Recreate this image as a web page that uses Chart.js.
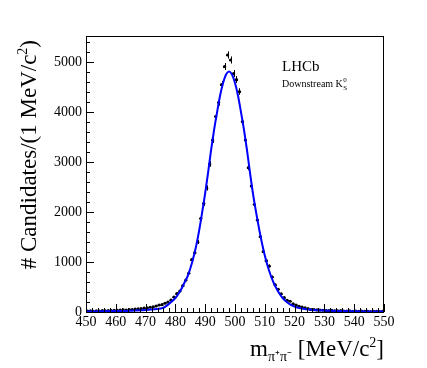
<!DOCTYPE html>
<html>
<head>
<meta charset="utf-8">
<script src="https://cdn.jsdelivr.net/npm/chart.js@4.4.1/dist/chart.umd.min.js"></script>
<style>
  html, body { margin: 0; padding: 0; background: #fff; }
  canvas { display: block; }
</style>
</head>
<body>
<canvas id="massChart" width="427" height="368"></canvas>
<script>
// --- data (1 MeV bins from 450 to 550) ---
const binLow = 450;
const binWidth = 1;
const counts = [
  18, 22, 15, 25, 20, 28, 24, 30, 26, 35,
  32, 38, 42, 40, 50, 48, 58, 62, 70, 78,
  85, 95, 105, 120, 140, 150, 175, 200, 240, 300,
  370, 420, 530, 640, 780, 1050, 1190, 1400, 1870, 2170,
  2480, 2960, 3440, 3910, 4190, 4550, 4910, 5140, 5040, 4770,
  4650, 4410, 3810, 3440, 2890, 2520, 2150, 1840, 1510, 1210,
  1030, 920, 700, 545, 455, 365, 290, 235, 215, 165,
  140, 115, 100, 85, 70, 50, 48, 42, 38, 35,
  30, 28, 32, 25, 22, 26, 20, 18, 22, 15,
  18, 14, 16, 12, 15, 10, 13, 11, 9, 12
];

// fit curve
const fitMass = [
  450, 455, 460, 465, 470, 473, 476, 478, 480, 481, 482, 483, 484, 485,
  486, 487, 488, 489, 490, 491, 492, 493, 494, 495, 496, 497, 498, 499,
  500, 501, 502, 503, 504, 505, 506, 507, 508, 509, 510, 511, 512, 513,
  514, 515, 516, 517, 518, 520, 522, 524, 526, 528, 530, 535, 540, 545, 550
];
const fitValue = [
  10, 13, 18, 26, 40, 55, 85, 170, 280, 360, 460, 580, 700, 870,
  1080, 1330, 1640, 2000, 2380, 2800, 3250, 3650, 4000, 4330, 4580, 4750, 4810, 4750,
  4580, 4330, 4000, 3650, 3250, 2800, 2380, 2020, 1690, 1390, 1130, 910, 730, 580,
  460, 360, 280, 220, 170, 108, 73, 54, 42, 34, 29, 21, 15, 12, 10
];

const xTicks = [450, 460, 470, 480, 490, 500, 510, 520, 530, 540, 550];
const yTicks = [0, 1000, 2000, 3000, 4000, 5000];
const xRange = [450, 550];
const yRange = [0, 5520];

const SERIF = '"Liberation Serif", "Times New Roman", serif';

// draw a run of text pieces (with sub/superscripts), right aligned at x
function richText(ctx, parts, x, y) {
  let total = 0;
  parts.forEach((p) => {
    ctx.font = `${p.size}px ${SERIF}`;
    total += ctx.measureText(p.t).width;
  });
  let cx = x - total;
  ctx.textAlign = "left";
  ctx.textBaseline = "alphabetic";
  parts.forEach((p) => {
    ctx.font = `${p.size}px ${SERIF}`;
    ctx.fillText(p.t, cx, y + (p.dy || 0));
    cx += ctx.measureText(p.t).width;
  });
}

const errorBars = {
  id: "errorBars",
  beforeDatasetsDraw(chart) {
    const { ctx, chartArea: a, scales: { x, y } } = chart;
    ctx.save();
    ctx.beginPath();
    ctx.rect(a.left, a.top, a.right - a.left, a.bottom - a.top);
    ctx.clip();
    ctx.strokeStyle = "#000";
    ctx.lineWidth = 1;
    ctx.beginPath();
    counts.forEach((n, i) => {
      const c = binLow + (i + 0.5) * binWidth;
      const err = Math.sqrt(n);
      const px = Math.round(x.getPixelForValue(c)) + 0.5;
      const py = Math.round(y.getPixelForValue(n)) + 0.5;
      ctx.moveTo(px, y.getPixelForValue(n + err));
      ctx.lineTo(px, y.getPixelForValue(n - err));
      ctx.moveTo(x.getPixelForValue(c - binWidth / 2), py);
      ctx.lineTo(x.getPixelForValue(c + binWidth / 2), py);
    });
    ctx.stroke();
    ctx.restore();
  },
};

const frameAndTitles = {
  id: "frameAndTitles",
  afterDraw(chart) {
    const { ctx, chartArea: a, scales: { x, y } } = chart;
    ctx.save();
    ctx.strokeStyle = "#000";
    ctx.lineWidth = 1;
    ctx.strokeRect(Math.round(a.left) + 0.5, Math.round(a.top) + 0.5,
      Math.round(a.right - a.left) - 1, Math.round(a.bottom - a.top));

    // inward ticks, ROOT style
    ctx.beginPath();
    for (let v = xRange[0]; v <= xRange[1]; v += 2) {
      const px = Math.round(x.getPixelForValue(v)) + 0.5;
      const len = v % 10 === 0 ? 8 : 4;
      ctx.moveTo(px, a.bottom);
      ctx.lineTo(px, a.bottom - len);
    }
    for (let v = 0; v <= yRange[1]; v += 200) {
      const py = Math.round(y.getPixelForValue(v)) + 0.5;
      const len = v % 1000 === 0 ? 8 : 4;
      ctx.moveTo(a.left, py);
      ctx.lineTo(a.left + len, py);
    }
    ctx.stroke();

    ctx.fillStyle = "#000";
    // x title
    richText(ctx, [
      { t: "m", size: 23 },
      { t: "\u03c0\u207a\u03c0\u207b", size: 14, dy: 5 },
      { t: " [MeV/c", size: 23 },
      { t: "2", size: 14, dy: -9 },
      { t: "]", size: 23 },
    ], a.right, 356);

    // y title
    ctx.save();
    ctx.translate(36, 40);
    ctx.rotate(-Math.PI / 2);
    richText(ctx, [
      { t: "# Candidates/(1 MeV/c", size: 23 },
      { t: "2", size: 14, dy: -9 },
      { t: ")", size: 23 },
    ], 0, 0);
    ctx.restore();

    // label
    ctx.textAlign = "left";
    ctx.font = `15px ${SERIF}`;
    ctx.fillText("LHCb", 282, 71);
    ctx.font = `10px ${SERIF}`;
    ctx.fillText("Downstream K", 282, 87);
    const kw = ctx.measureText("Downstream K").width;
    ctx.font = `7px ${SERIF}`;
    ctx.fillText("0", 282 + kw + 0.5, 82);
    ctx.fillText("S", 282 + kw + 0.5, 90);
    ctx.restore();
  },
};

new Chart(document.getElementById("massChart"), {
  type: "line",
  data: {
    datasets: [
      {
        label: "fit",
        data: fitMass.map((m, i) => ({ x: m, y: fitValue[i] })),
        borderColor: "#0000ff",
        borderWidth: 2,
        pointRadius: 0,
        fill: false,
        cubicInterpolationMode: "monotone",
      },
      {
        label: "data",
        data: counts.map((n, i) => ({ x: binLow + (i + 0.5) * binWidth, y: n })),
        showLine: false,
        pointRadius: 1.6,
        pointBackgroundColor: "#000",
        pointBorderWidth: 0,
      },
    ],
  },
  options: {
    responsive: false,
    animation: false,
    events: [],
    layout: { padding: { left: 0, top: 36, right: 43, bottom: 0 } },
    plugins: { legend: { display: false }, tooltip: { enabled: false } },
    scales: {
      x: {
        type: "linear",
        min: xRange[0],
        max: xRange[1],
        grid: { display: false, drawTicks: false },
        border: { display: false },
        afterBuildTicks: (s) => { s.ticks = xTicks.map((v) => ({ value: v })); },
        afterFit: (s) => { s.height = 56; },
        ticks: {
          color: "#000",
          padding: 2,
          maxRotation: 0,
          autoSkip: false,
          font: { family: SERIF, size: 14 },
          callback: (v) => String(v),
        },
      },
      y: {
        type: "linear",
        min: yRange[0],
        max: yRange[1],
        grid: { display: false, drawTicks: false },
        border: { display: false },
        afterBuildTicks: (s) => { s.ticks = yTicks.map((v) => ({ value: v })); },
        afterFit: (s) => { s.width = 86; },
        ticks: {
          color: "#000",
          padding: 4,
          autoSkip: false,
          font: { family: SERIF, size: 14 },
          callback: (v) => String(v),
        },
      },
    },
  },
  plugins: [errorBars, frameAndTitles],
});
</script>
</body>
</html>
